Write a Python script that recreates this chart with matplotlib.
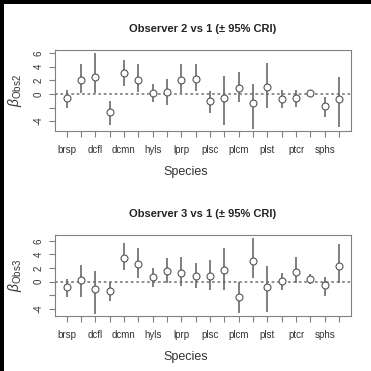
import matplotlib
matplotlib.use("Agg")
import matplotlib.pyplot as plt
from matplotlib.patches import Rectangle
import numpy as np

plt.rcParams['font.family'] = ['Liberation Sans', 'DejaVu Sans']
plt.rcParams['mathtext.fontset'] = 'custom'
plt.rcParams['mathtext.rm'] = 'Liberation Sans'
plt.rcParams['mathtext.it'] = 'Liberation Sans:italic'

positions = list(range(1, 21))
tick_labels = ['brsp', '', 'dcfl', '', 'dcmn', '', 'hyls', '', 'lprp', '',
               'plsc', '', 'plcm', '', 'plst', '', 'ptcr', '', 'sphs', '']

obs2_mean = [-0.63, 2.1, 2.5, -2.7, 3.0, 2.1, 0.1, 0.3, 2.1, 2.25,
             -1.07, -0.54, 0.83, -1.37, 1.07, -0.73, -0.63, 0.15, -1.76, -0.73]
obs2_hi = [0.63, 4.4, 6.0, -1.07, 5.0, 4.4, 1.45, 2.25, 4.4, 4.4,
           0.4, 2.7, 3.2, 1.5, 4.6, 0.54, 0.54, 0.63, -0.5, 2.44]
obs2_lo = [-2.05, 0.15, 0.15, -4.6, 1.2, 0.25, -1.2, -1.7, 0.15, 0.4,
           -2.8, -4.6, -1.2, -5.2, -2.05, -2.05, -1.95, -0.5, -3.37, -4.8]

obs3_mean = [-0.78, 0.25, -1.08, -1.37, 3.53, 2.55, 0.73, 1.5, 1.32, 0.83,
             0.83, 1.67, -2.2, 3.0, -0.73, 0.05, 1.47, 0.34, -0.54, 2.25]
obs3_hi = [0.4, 2.45, 1.6, -0.1, 5.7, 5.0, 2.06, 3.43, 3.58, 2.7,
           3.2, 4.9, -0.1, 6.47, 2.3, 1.2, 3.68, 1.1, 0.73, 5.5]
obs3_lo = [-2.2, -2.2, -4.8, -2.85, 1.7, 0.6, -0.73, -0.25, -0.64, -1.0,
           -1.3, -1.27, -4.66, 0.5, -4.5, -1.2, -0.25, -0.4, -2.06, -0.25]

yticks = [-4, -2, 0, 2, 4, 6]
ytick_labels = ['-4', '', '0', '2', '4', '6']

W = H = 371
fig = plt.figure(figsize=(3.71, 3.71), dpi=100)
fig.patch.set_facecolor('black')
fig.patches.append(Rectangle((4 / W, 0), 1, 1 - 4 / H, transform=fig.transFigure,
                             facecolor='white', edgecolor='none', zorder=-10))

def px(x0, y0, x1, y1):
    return [x0 / W, 1 - y1 / H, (x1 - x0) / W, (y1 - y0) / H]

panels = [
    dict(rect=px(55, 50, 350.7, 131), mean=obs2_mean, lo=obs2_lo, hi=obs2_hi,
         ylim=(-5.45, 6.45), title='Observer 2 vs 1 (± 95% CRI)', title_y=29,
         ylab=r'$\beta_{\mathrm{Obs2}}$', xlab_y=172),
    dict(rect=px(55, 235, 350.7, 316), mean=obs3_mean, lo=obs3_lo, hi=obs3_hi,
         ylim=(-5.05, 6.85), title='Observer 3 vs 1 (± 95% CRI)', title_y=214,
         ylab=r'$\beta_{\mathrm{Obs3}}$', xlab_y=357),
]

gray = '#808080'
for p in panels:
    ax = fig.add_axes(p['rect'])
    ax.set_facecolor('none')
    x = np.array(positions)
    ax.vlines(x, p['lo'], p['hi'], color='#6a6a6a', lw=1.2, zorder=2)
    ax.plot(x, p['mean'], 'o', ms=5, mfc='white', mec='#555555', mew=0.8, zorder=3)
    ax.axhline(0, color='#888888', lw=1.3, ls=(0, (1.5, 1.5)), zorder=1)
    ax.set_xlim(0.19, 20.81)
    ax.set_ylim(*p['ylim'])
    ax.set_xticks(positions)
    ax.set_xticklabels(tick_labels, fontsize=7, color='#333333')
    ax.set_yticks(yticks)
    ax.set_yticklabels(ytick_labels, fontsize=7, color='#333333', rotation=90, va='center')
    ax.tick_params(axis='both', length=4.3, width=0.8, color=gray, direction='out')
    ax.tick_params(axis='x', pad=6)
    ax.tick_params(axis='y', pad=4)
    for s in ax.spines.values():
        s.set_color(gray)
        s.set_linewidth(0.8)
    fig.text(202.5 / W, 1 - p['title_y'] / H, p['title'], fontsize=8, fontweight='bold',
             ha='center', va='center', color='#222222')
    fig.text(186 / W, 1 - p['xlab_y'] / H, 'Species', fontsize=9, ha='center', va='center',
             color='#333333')
    ycen = (p['rect'][1] + p['rect'][3] / 2)
    fig.text(15 / W, ycen, p['ylab'], fontsize=10, rotation=90, ha='center', va='center',
             color='#333333')

fig.savefig('out.png', dpi=100, facecolor=fig.get_facecolor())
